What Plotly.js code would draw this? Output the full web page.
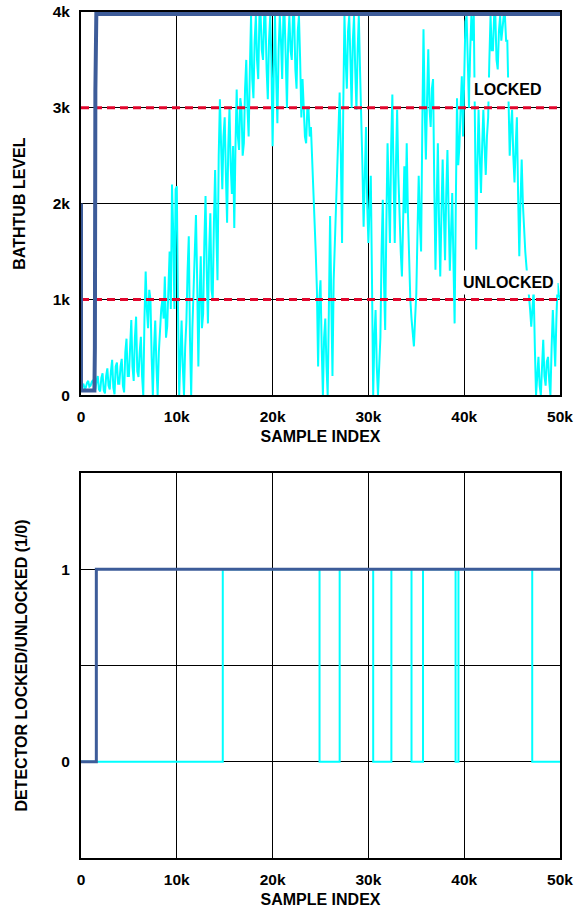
<!DOCTYPE html>
<html>
<head>
<meta charset="utf-8">
<script src="https://cdn.plot.ly/plotly-3.0.1.min.js"></script>
<style>html,body{margin:0;padding:0;background:#fff;}#chart{width:579px;height:909px;}</style>
</head>
<body>
<div id="chart"></div>
<script>
// ---- Data ----
var xTickVals = [0, 10000, 20000, 30000, 40000, 50000];
var xTickText = ['0', '10k', '20k', '30k', '40k', '50k'];
var levelTickVals = [0, 1000, 2000, 3000, 4000];
var levelTickText = ['0', '1k', '2k', '3k', '4k'];
var stateTickVals = [0, 0.5, 1];
var stateTickText = ['0', '', '1'];

var lockedThreshold = 3000;
var unlockedThreshold = 1000;

// Fast-settling bathtub (dark blue)
var blueLevelX = [0, 0, 1400, 1450, 1500, 1600, 50000];
var blueLevelY = [2000, 50, 50, 500, 3180, 3980, 3980];

// Noisy bathtub (cyan), sampled every 125 samples
var cyanLevelX = [
 0,125,250,375,500,625,750,875, 1000,1125,1250,1375,1500,1625,1750,1875,
 2000,2125,2250,2375,2500,2625,2750,2875, 3000,3125,3250,3375,3500,3625,3750,3875,
 4000,4125,4250,4375,4500,4625,4750,4875, 5000,5125,5250,5375,5500,5625,5750,5875,
 6000,6125,6250,6375,6500,6625,6750,6875, 7000,7125,7250,7375,7500,7625,7750,7875,
 8000,8125,8250,8375,8500,8625,8750,8875, 9000,9125,9250,9375,9500,9625,9750,9875,
 10000,10125,10250,10375,10500,10625,10750,10875, 11000,11125,11250,11375,11500,11625,11750,11875,
 12000,12125,12250,12375,12500,12625,12750,12875, 13000,13125,13250,13375,13500,13625,13750,13875,
 14000,14125,14250,14375,14500,14625,14750,14875, 15000,15125,15250,15375,15500,15625,15750,15875,
 16000,16125,16250,16375,16500,16625,16750,16875, 17000,17125,17250,17375,17500,17625,17750,17875,
 18000,18125,18250,18375,18500,18625,18750,18875, 19000,19125,19250,19375,19500,19625,19750,19875,
 20000,20125,20250,20375,20500,20625,20750,20875, 21000,21125,21250,21375,21500,21625,21750,21875,
 22000,22125,22250,22375,22500,22625,22750,22875, 23000,23125,23250,23375,23500,23625,23750,23875,
 24000,24125,24250,24375,24500,24625,24750,24875, 25000,25125,25250,25375,25500,25625,25750,25875,
 26000,26125,26250,26375,26500,26625,26750,26875, 27000,27125,27250,27375,27500,27625,27750,27875,
 28000,28125,28250,28375,28500,28625,28750,28875, 29000,29125,29250,29375,29500,29625,29750,29875,
 30000,30125,30250,30375,30500,30625,30750,30875, 31000,31125,31250,31375,31500,31625,31750,31875,
 32000,32125,32250,32375,32500,32625,32750,32875, 33000,33125,33250,33375,33500,33625,33750,33875,
 34000,34125,34250,34375,34500,34625,34750,34875, 35000,35125,35250,35375,35500,35625,35750,35875,
 36000,36125,36250,36375,36500,36625,36750,36875, 37000,37125,37250,37375,37500,37625,37750,37875,
 38000,38125,38250,38375,38500,38625,38750,38875, 39000,39125,39250,39375,39500,39625,39750,39875,
 40000,40125,40250,40375,40500,40625,40750,40875, 41000,41125,41250,41375,41500,41625,41750,41875,
 42000,42125,42250,42375,42500,42625,42750,42875, 43000,43125,43250,43375,43500,43625,43750,43875,
 44000,44125,44250,44375,44500,44625,44750,44875, 45000,45125,45250,45375,45500,45625,45750,45875,
 46000,46125,46250,46375,46500,46625,46750,46875, 47000,47125,47250,47375,47500,47625,47750,47875,
 48000,48125,48250,48375,48500,48625,48750,48875, 49000,49125,49250,49375,49500,49625,49750,49875,
 50000
];
var cyanLevelY = [
 60,100,120,70,80,130,150,90, 100,140,160,90,60,150,200,60,
 40,180,230,50,20,200,280,100, 60,250,370,80,10,300,340,120,
 120,300,380,100,30,450,590,200, 200,500,785,300,150,600,820,250,
 190,450,610,200,0,800,1290,900, 700,1100,1000,400,0,500,780,300,
 0,450,700,900,1000,800,1240,600, 720,1100,1500,900,2200,1700,900,2150,
 2180,900,0,400,780,300,0,500, 770,1300,1660,600,0,700,1100,1500,
 1880,1200,300,1000,1450,700,850,1600, 2080,1300,750,1500,1900,1100,1000,1800,
 2350,1700,1200,2500,3090,2600,2150,2700, 2900,2300,1800,2600,3000,2400,2100,2600,
 1745,2600,3190,2700,2560,3100,3000,2500, 2630,3200,3500,3000,2700,3400,3960,3300,
 3100,3700,3960,3500,3300,3960,3960,3600, 3500,3960,3960,3400,3090,3700,3960,3500,
 2600,3400,3960,3300,2840,3600,3960,3700, 3300,3960,3960,3500,3000,3700,3960,3600,
 3500,3960,3960,3400,3200,3800,3960,3500, 2900,3300,3050,2700,2630,3000,2980,2700,
 2800,2500,2200,1800,1500,1100,300,1000, 1200,500,0,600,800,300,0,900,
 1870,1000,200,1200,1600,2000,2400,2800, 3160,2500,1590,3000,3960,3500,3200,3800,
 3960,3500,3000,3700,3960,3400,2980,3600, 3960,3400,2980,2400,1760,2500,2800,2000,
 1590,2000,2290,1200,0,600,890,300, 0,300,600,1500,2040,1200,680,1800,
 2630,2100,1590,2600,3140,2300,1590,2400, 2980,2300,1800,1500,1240,1900,2390,1900,
 2630,1900,1300,1000,800,600,510,800, 1060,1700,2290,1800,1500,2800,3820,3000,
 2460,3100,3610,3000,2800,3200,3300,2200, 1310,2000,2630,1800,1240,1900,2460,1900,
 1410,2100,2560,1900,1300,1700,2110,1400, 750,2000,3100,2400,2600,3000,3330,2700,
 3500,3900,3960,3400,3000,3600,3960,3700, 3960,2800,1520,2400,2980,2500,2110,2600,
 2980,2600,2300,2700,2900,3500,3960,3600, 3600,3960,3960,3500,3400,3800,3960,3700,
 3800,3960,3960,3700,3700,3100,2500,2800, 2980,2500,2220,2600,2900,2100,1450,2000,
 2460,2000,1700,1500,1340,1200,1100,900, 715,900,1100,500,0,200,400,100,
 0,300,580,200,100,350,400,150, 0,500,890,600,300,800,1170,1050,
 1000
];

// Detector state (1 = locked, 0 = unlocked)
var blueStateX = [0, 1600, 50000];
var blueStateY = [0, 1, 1];
var cyanStateX = [0, 14800, 24900, 27000, 30500, 32400, 34500, 35700, 39100, 39400, 47100, 50000];
var cyanStateY = [0, 1, 0, 1, 0, 1, 0, 1, 0, 1, 0, 0];

// ---- Styling ----
var BLUE = '#3D5C99';
var CYAN = '#00FFFF';
var RED = '#E2062C';
var FONT = 'Liberation Sans, Arial, Helvetica, sans-serif';
var tickFont = {family: FONT, size: 15.5, color: '#000', weight: 'bold'};
var titleFont = {family: FONT, size: 16, color: '#000', weight: 'bold'};

var traces = [
  {x: cyanLevelX, y: cyanLevelY, xaxis: 'x', yaxis: 'y', mode: 'lines',
   line: {color: CYAN, width: 2}, hoverinfo: 'skip'},
  {x: [0, 50000], y: [unlockedThreshold, unlockedThreshold], xaxis: 'x', yaxis: 'y', mode: 'lines',
   line: {color: RED, width: 3, dash: '8px,5px'}},
  {x: [0, 50000], y: [lockedThreshold, lockedThreshold], xaxis: 'x', yaxis: 'y', mode: 'lines',
   line: {color: RED, width: 3, dash: '8px,5px'}},
  {x: blueLevelX, y: blueLevelY, xaxis: 'x', yaxis: 'y', mode: 'lines',
   line: {color: BLUE, width: 4}},
  {x: cyanStateX, y: cyanStateY, xaxis: 'x2', yaxis: 'y2', mode: 'lines',
   line: {color: CYAN, width: 2, shape: 'hv'}},
  {x: blueStateX, y: blueStateY, xaxis: 'x2', yaxis: 'y2', mode: 'lines',
   line: {color: BLUE, width: 3, shape: 'hv'}}
];

function xAxis(anchor) {
  return {
    anchor: anchor, domain: [0, 1], range: [0, 50000],
    tickvals: xTickVals, ticktext: xTickText, tickfont: tickFont,
    ticks: 'outside', ticklen: 6, tickcolor: 'rgba(0,0,0,0)',
    showgrid: true, gridcolor: '#000', gridwidth: 1, zeroline: false,
    showline: true, linecolor: '#000', linewidth: 2, mirror: true,
    title: {text: 'SAMPLE INDEX', font: titleFont, standoff: 7}
  };
}

var layout = {
  width: 579, height: 909,
  margin: {l: 81, r: 19, t: 12, b: 51},
  paper_bgcolor: '#fff', plot_bgcolor: '#fff',
  showlegend: false,
  xaxis: xAxis('y'),
  xaxis2: xAxis('y2'),
  yaxis: {
    anchor: 'x', domain: [0.547, 1], range: [0, 4000],
    tickvals: levelTickVals, ticktext: levelTickText, tickfont: tickFont,
    ticks: 'outside', ticklen: 6, tickcolor: 'rgba(0,0,0,0)',
    showgrid: true, gridcolor: '#000', gridwidth: 1, zeroline: false,
    showline: true, linecolor: '#000', linewidth: 2, mirror: true,
    title: {text: 'BATHTUB LEVEL', font: titleFont, standoff: 23}
  },
  yaxis2: {
    anchor: 'x2', domain: [0, 0.455], range: [-0.5, 1.5],
    tickvals: stateTickVals, ticktext: stateTickText, tickfont: tickFont,
    ticks: 'outside', ticklen: 6, tickcolor: 'rgba(0,0,0,0)',
    showgrid: true, gridcolor: '#000', gridwidth: 1, zeroline: false,
    showline: true, linecolor: '#000', linewidth: 2, mirror: true,
    title: {text: 'DETECTOR LOCKED/UNLOCKED (1/0)', font: titleFont, standoff: 30}
  },
  annotations: [
    {x: 44600, y: 3190, xref: 'x', yref: 'y', text: 'LOCKED', showarrow: false,
     font: {family: FONT, size: 16, color: '#000', weight: 'bold'}, bgcolor: '#fff', borderpad: 3},
    {x: 44600, y: 1180, xref: 'x', yref: 'y', text: 'UNLOCKED', showarrow: false,
     font: {family: FONT, size: 16, color: '#000', weight: 'bold'}, bgcolor: '#fff', borderpad: 3}
  ]
};

Plotly.newPlot('chart', traces, layout, {displayModeBar: false, staticPlot: true});
</script>
</body>
</html>
